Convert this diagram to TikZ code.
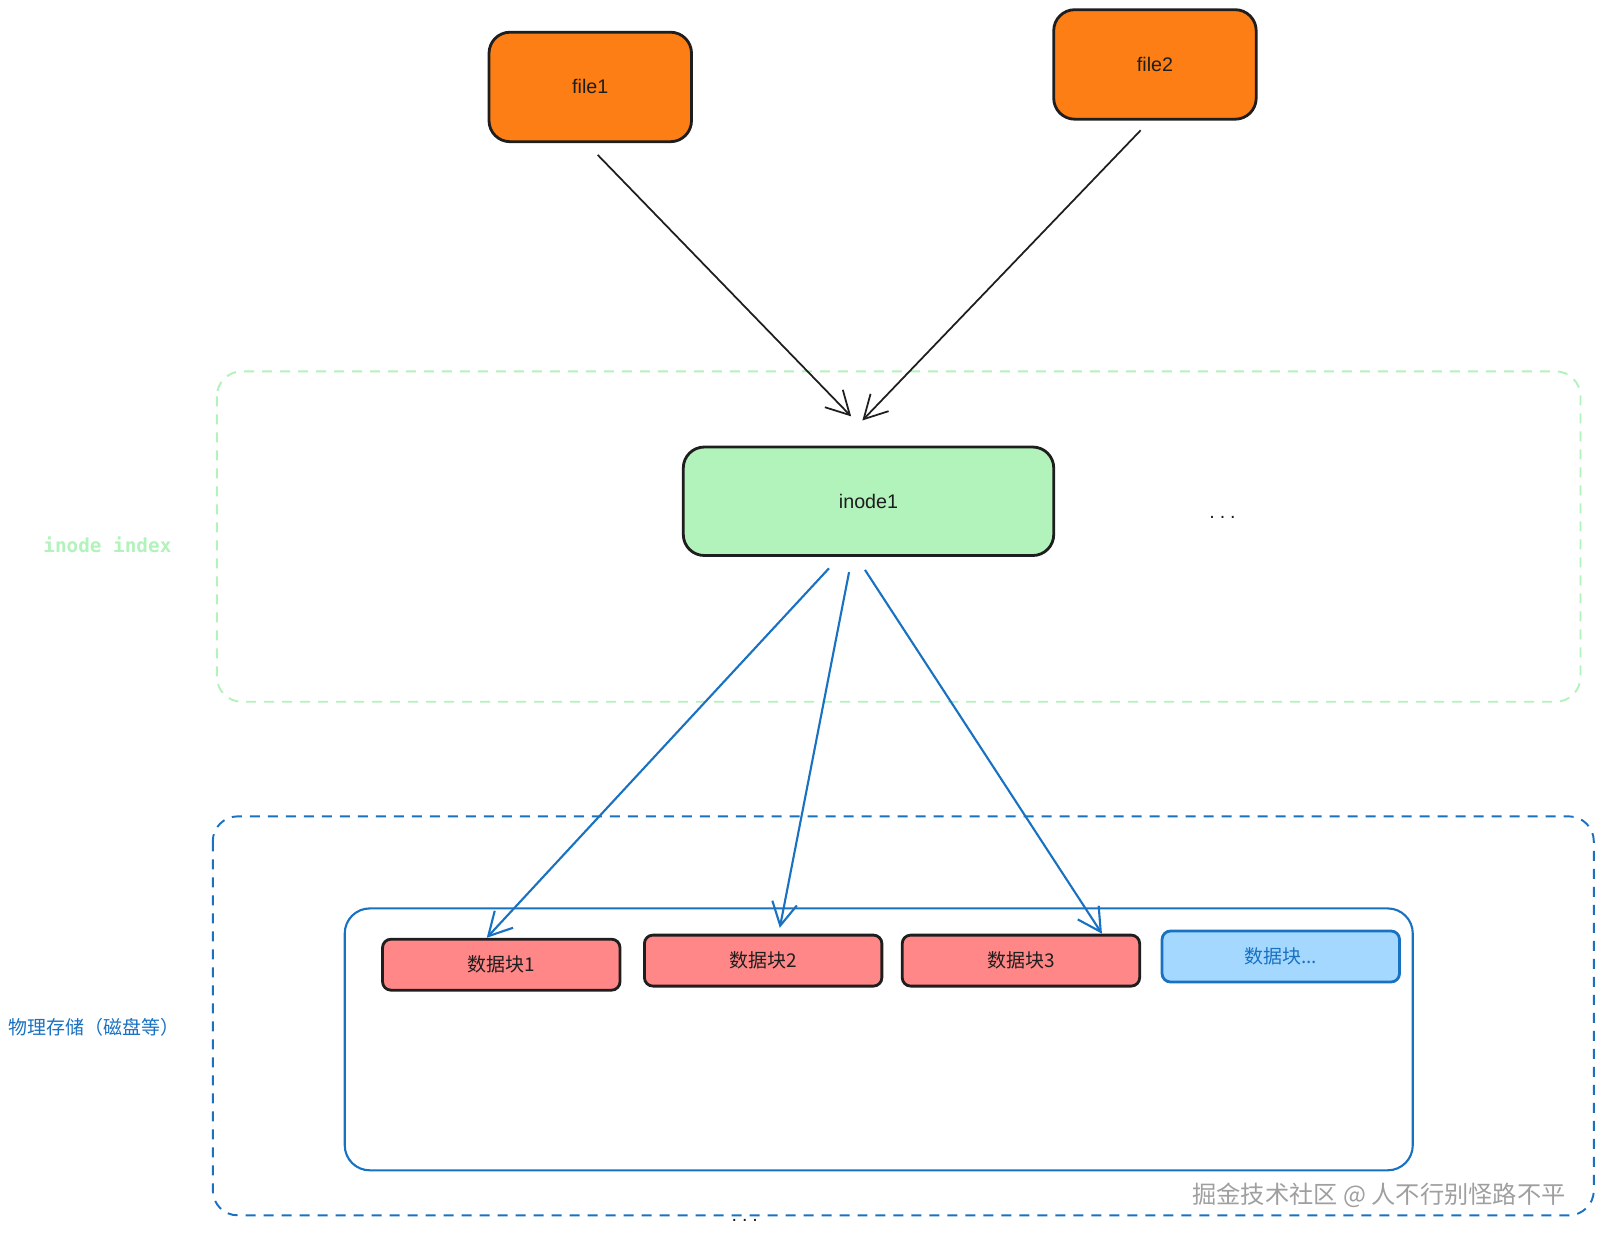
\documentclass[tikz,border=0pt]{standalone}
\usepackage{fontspec}
\setmainfont{Liberation Sans}
\setmonofont{DejaVu Sans Mono}
\newfontfamily\cjk{Noto Sans CJK SC}
\usetikzlibrary{arrows.meta}

\definecolor{ink}{HTML}{1E1E1E}
\definecolor{fileorange}{HTML}{FD7E14}
\definecolor{inodegreen}{HTML}{B2F2BB}
\definecolor{blockred}{HTML}{FF8787}
\definecolor{blocklight}{HTML}{A5D8FF}
\definecolor{diskblue}{HTML}{1971C2}

\begin{document}
\begin{tikzpicture}[x=0.02046cm, y=-0.02046cm, font=\fontsize{11.2}{13}\selectfont,
    box/.style={draw=ink, line width=1.6pt, rounded corners=0.42cm, inner sep=0pt, text=ink},
    filebox/.style={box, fill=fileorange, minimum width=4.05cm, minimum height=2.19cm},
    blockbox/.style={box, rounded corners=0.17cm, fill=blockred, minimum width=4.75cm, minimum height=1.02cm, font=\cjk\fontsize{10.8}{12}\selectfont},
    region/.style={line width=1.1pt, rounded corners=0.5cm, dash pattern=on 0.2cm off 0.16cm},
    ptr/.style={draw=ink, line width=1pt, -{Straight Barb[length=4.6mm,width=5mm]}},
    blueptr/.style={ptr, draw=diskblue, line width=1.2pt}]
    \useasboundingbox (0,0) rectangle (1566,1211);

    % dashed layers
    \draw[region, draw=inodegreen] (212,363) rectangle (1545,686);
    \draw[region, draw=diskblue] (208,798) rectangle (1558,1188);
    \node[text=inodegreen, font=\fontsize{11}{12}\ttfamily\bfseries] (inodelabel) at (105,533) {inode index};
    \node[text=diskblue, font=\cjk\fontsize{10.8}{12}\selectfont] (disklabel) at (92,1004) {物理存储（磁盘等）};

    % files
    \node[filebox] (file1) at (577,85) {file1};
    \node[filebox] (file2) at (1129,63) {file2};

    % inode
    \node[box, fill=inodegreen, minimum width=7.41cm, minimum height=2.17cm] (inode1) at (849,490) {inode1};
    \node[text=ink] (inodemore) at (1195,506) {.\hspace{0.25em}.\hspace{0.25em}.};
    \coordinate (in1) at (832,407);
    \coordinate (in2) at (843,411);
    \draw[ptr, shorten <=0.33cm] ([xshift=-0.08cm]file1.south) -- (in1);
    \draw[ptr, shorten <=0.27cm] ([xshift=-0.1cm]file2.south) -- (in2);

    % disk
    \draw[diskblue, line width=1.2pt, rounded corners=0.5cm] (337,888) rectangle (1381,1144);
    \node[blockbox] (blk1) at (490,943) {数据块1};
    \node[blockbox] (blk2) at (746,939) {数据块2};
    \node[blockbox] (blk3) at (998,939) {数据块3};
    \node[blockbox, draw=diskblue, fill=blocklight, text=diskblue] (blkmore) at (1252,935) {数据块...};
    \node[text=ink] (diskmore) at (728,1193) {.\hspace{0.25em}.\hspace{0.25em}.};

    \draw[blueptr, shorten <=0.31cm] ([xshift=-0.58cm]inode1.south) -- ([xshift=-0.29cm]blk1.north);
    \draw[blueptr, shorten <=0.31cm, shorten >=0.12cm] ([xshift=-0.33cm]inode1.south) -- ([xshift=0.31cm]blk2.north);
    \draw[blueptr, shorten <=0.31cm] ([xshift=-0.24cm]inode1.south) -- ([xshift=1.62cm]blk3.north);

    % watermark
    \node[text=gray!75, font=\cjk\fontsize{13.8}{15}\selectfont] (mark) at (1348,1168) {掘金技术社区 @ 人不行别怪路不平};
\end{tikzpicture}
\end{document}
